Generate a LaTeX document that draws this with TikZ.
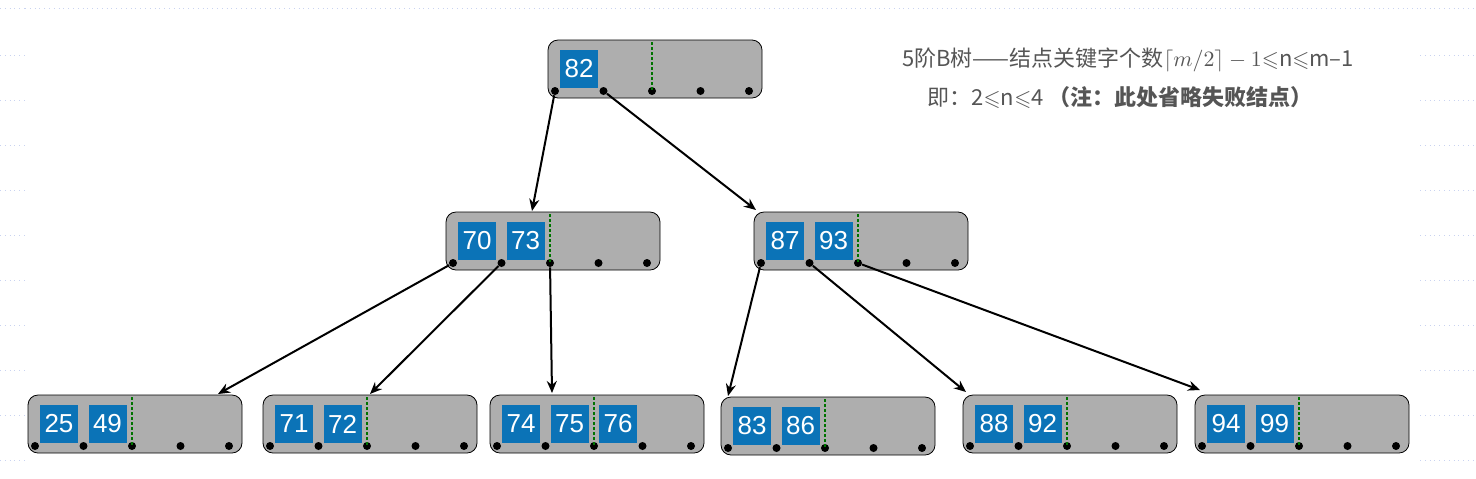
\documentclass[tikz,border=0pt]{standalone}
\usepackage{amssymb}
\usepackage{fontspec}
\setmainfont{Liberation Sans}
\newfontfamily\cjk{Noto Sans CJK SC}
\usetikzlibrary{arrows.meta,positioning}
\definecolor{keyblue}{HTML}{0B73B7}
\definecolor{boxgray}{HTML}{AEAEAE}
\definecolor{gridblue}{HTML}{C9D3F0}
\definecolor{textgray}{HTML}{555555}
\tikzset{
  bbox/.style={fill=boxgray, rounded corners=5pt},
  bkey/.style={fill=keyblue, text=white, minimum width=19pt, minimum height=19pt,
    inner sep=0pt, font=\fontsize{13}{13}\selectfont},
  bdot/.style={circle, fill=black, inner sep=0pt, minimum size=4pt},
  minline/.style={draw=green!45!black, line width=1.2pt, dash pattern=on 1.5pt off 1pt},
  ptr/.style={line width=1pt, -{Stealth[length=6pt,width=5pt]}},
  grid/.style={draw=gridblue, dotted, line width=0.4pt}
}
% B-tree node: #1 name, #2 left, #3 top, #4 keys
\newcommand{\btnode}[4]{%
  \draw[bbox] (#2,#3) rectangle ++(214,58);
  \foreach \i in {0,...,4}
    \node[bdot] (#1d\i) at (#2+7+48.5*\i,#3+51) {};
  \draw[minline] (#2+7+97,#3+2) -- (#2+7+97,#3+50);
  \foreach \k [count=\j from 0] in {#4}
    \node[bkey] (#1k\j) at (#2+7+24+48.5*\j,#3+29) {\k};
}
\begin{document}
\begin{tikzpicture}[x=0.5pt,y=-0.5pt]
\useasboundingbox (0,0) rectangle (1476,478);
% faint grid at the margins
\foreach \y in {8,55,100,145,190,235,280,325,370,415,460}{
  \draw[grid] (0,\y) -- (25,\y);
  \draw[grid] (1420,\y) -- (1476,\y);
}
\draw[grid] (25,8) -- (1420,8);
% nodes
\btnode{r}{548}{40}{82}
\btnode{a}{446}{212}{70,73}
\btnode{b}{754}{212}{87,93}
\btnode{c}{28}{395}{25,49}
\btnode{d}{263}{395}{71,72}
\btnode{e}{490}{395}{74,75,76}
\btnode{f}{721}{397}{83,86}
\btnode{g}{963}{395}{88,92}
\btnode{h}{1195}{395}{94,99}
% arrow targets
\coordinate (ta) at (532,211);
\coordinate (tb) at (756,210);
\coordinate (tc) at (218,394);
\coordinate (td) at (370,394);
\coordinate (te) at (552,393);
\coordinate (tf) at (728,396);
\coordinate (tg) at (966,392);
\coordinate (th) at (1200,390);
\draw[ptr] (rd0) -- (ta);
\draw[ptr] (rd1) -- (tb);
\draw[ptr] (ad0) -- (tc);
\draw[ptr] (ad1) -- (td);
\draw[ptr] (ad2) -- (te);
\draw[ptr] (bd0) -- (tf);
\draw[ptr] (bd1) -- (tg);
\draw[ptr] (bd2) -- (th);
% caption
\node[text=textgray, font=\cjk\fontsize{11}{11}\selectfont] (cap1) at (1128,60)
  {5阶B树——结点关键字个数$\lceil m/2\rceil-1{\leqslant}$n$\leqslant$m–1};
\node[text=textgray, font=\cjk\fontsize{11}{11}\selectfont] (cap2) at (1120,98)
  {即：2$\leqslant$n$\leqslant$4 \textbf{（注：此处省略失败结点）}};
\end{tikzpicture}
\end{document}
